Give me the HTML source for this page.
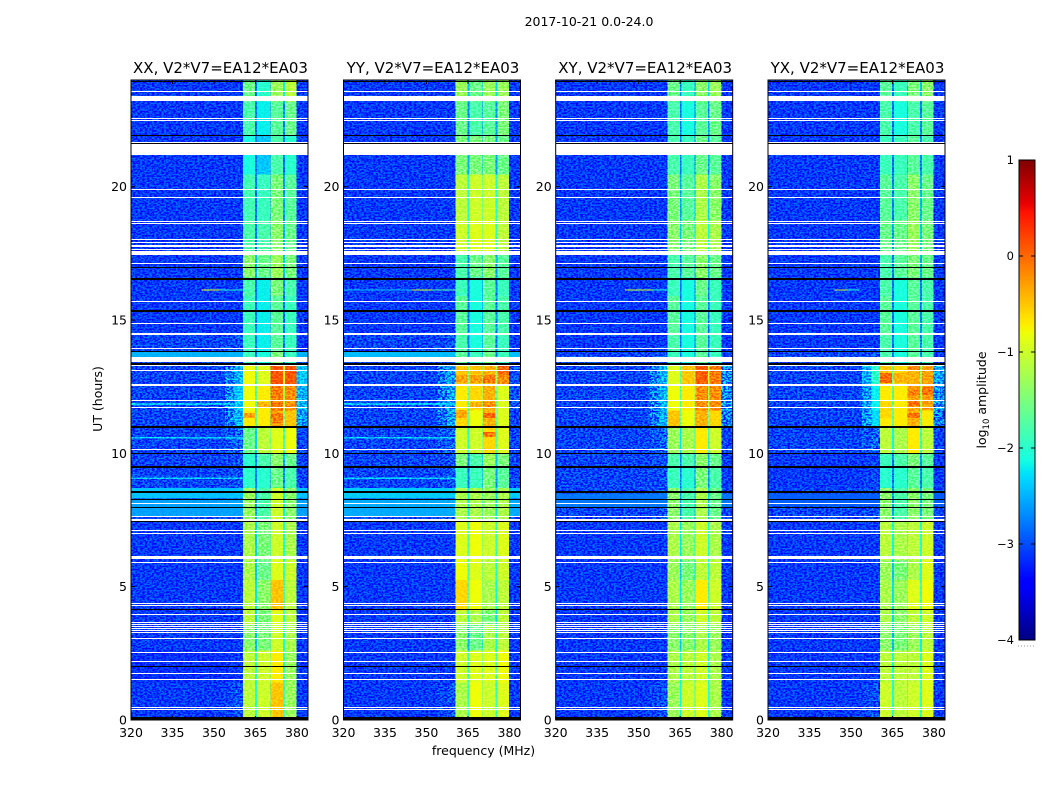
<!DOCTYPE html>
<html>
<head>
<meta charset="utf-8">
<title>2017-10-21 0.0-24.0</title>
<style>
html,body{margin:0;padding:0;background:#fff;}
svg{display:block;}
text{font-family:"DejaVu Sans","Liberation Sans",sans-serif;fill:#000;}
.tick{font-size:12.5px;}
.title{font-size:15px;}
</style>
</head>
<body>
<svg id="figure" xmlns="http://www.w3.org/2000/svg" width="1050" height="800" viewBox="0 0 1050 800">
<defs>
<filter id="speckle" x="0" y="0" width="100%" height="100%" color-interpolation-filters="sRGB">
<feTurbulence type="fractalNoise" baseFrequency="0.42 0.62" numOctaves="2" seed="7"/>
<feColorMatrix type="matrix" values="0 0 0 1 0 0 0 0 1 0 0 0 0 1 0 0 0 0 0 1"/>
<feComponentTransfer><feFuncR type="linear" slope="3.4" intercept="-1.2"/><feFuncG type="linear" slope="3.4" intercept="-1.2"/><feFuncB type="linear" slope="3.4" intercept="-1.2"/></feComponentTransfer>
</filter>
</defs>
<rect width="1050" height="800" fill="#fff"/>
<text x="589" y="26" font-size="12.5" text-anchor="middle">2017-10-21 0.0-24.0</text>
<text x="483.5" y="755" font-size="12.5" text-anchor="middle">frequency (MHz)</text>
<text x="0" y="0" font-size="12.5" text-anchor="middle" transform="translate(102,399) rotate(-90)">UT (hours)</text>
<g id="panels"></g>
<g id="colorbar"></g>
<text x="0" y="0" font-size="12.5" text-anchor="middle" transform="translate(986,400) rotate(-90)">log<tspan font-size="8.5" dy="3">10</tspan><tspan dy="-3"> amplitude</tspan></text>
</svg>
<script>
// ---- data ----
const panelTitles = ["XX, V2*V7=EA12*EA03","YY, V2*V7=EA12*EA03","XY, V2*V7=EA12*EA03","YX, V2*V7=EA12*EA03"];
const xTicks = [320,335,350,365,380];
const yTicks = [0,5,10,15,20];
const cbTicks = [1,0,-1,-2,-3,-4];
// time row edges (hours) and frequency column edges (MHz)
const timeEdges = [0,1.4,2.6,3.6,4.1,5.25,6,7.46,8.7,9.5,10,11,11.6,12.55,13.27,13.85,14.45,15.9,16.6,17.45,18.75,20.45,21.94,23.2,24];
const freqEdges = [320,354,357.5,360.5,364.9,365.5,370.2,370.5,375,375.6,379.9,384];
// log10 amplitude per row: [background, shoulder, band1, band2, band3, band4, right edge]
const ampXX = [
[-3.1,-3,-1.1,-1,-.5,-1.3,-3.1],[-3.15,-3.1,-1.1,-1,-.7,-1.3,-3.1],[-3.1,-3.1,-1.4,-1.5,-1,-1.2,-3.1],[-3.1,-3.1,-1.1,-1.5,-.9,-1.1,-3.1],
[-3.1,-3.1,-1.1,-1.4,-.5,-1.1,-3.1],[-3.1,-3.1,-1.2,-1.6,-.9,-1,-3.1],[-3.1,-3.1,-1.2,-1.5,-1,-1.2,-3.1],[-3.05,-3,-1.3,-1.8,-1,-1.4,-3.05],
[-3.05,-3,-2,-2,-1.6,-1.8,-3.05],[-3.05,-3,-2,-1.8,-1.4,-1.6,-3.05],[-3.05,-2.9,-1.6,-1.1,-.9,-.8,-3.05],[-3.05,-2.5,-.7,-.7,-.3,-.5,-2.6],
[-3.05,-2.4,-.8,-.7,-.1,-.2,-2.5],[-3.05,-2.5,-.8,-.9,.1,.1,-2.4],[-3.05,-3,-1.9,-2.1,-1.5,-1.9,-3.05],[-3.05,-3,-1.9,-2.2,-1.7,-1.9,-3.1],
[-3.1,-3.1,-1.9,-2.2,-1.7,-1.9,-3.1],[-3.1,-3.1,-1.8,-2.2,-1.5,-1.8,-3.1],[-3.1,-3.1,-1.4,-1.6,-1.3,-1.5,-3.1],[-3.1,-3.1,-1.8,-1.8,-1.4,-1.6,-3.1],
[-3.1,-3.1,-1.85,-1.9,-1.5,-1.7,-3.1],[-3.1,-3.1,-2.1,-2.4,-1.8,-2,-3.1],[-3.1,-3.1,-1.8,-2.2,-1.7,-1.6,-3.1],[-3.1,-3.1,-1.6,-2,-1.3,-1.1,-3.1]];
const ampYY = [
[-3.1,-3,-1.2,-.8,-1,-.9,-3.1],[-3.1,-3.1,-1,-.9,-.9,-.8,-3.1],[-3.1,-3.1,-1.4,-1.6,-1.2,-1.1,-3.1],[-3.1,-3.1,-1.1,-1.2,-1.5,-1.1,-3.1],
[-3.1,-3.1,-.6,-.8,-1.2,-1.1,-3.1],[-3.1,-3.1,-.8,-.9,-1.1,-1,-3.1],[-3.1,-3.1,-.9,-.8,-1,-.9,-3.1],[-3.05,-3,-1.2,-1.2,-1.3,-1.2,-3.05],
[-3.05,-3,-1.9,-1.9,-1.5,-1.7,-3.05],[-3.05,-3,-1.5,-1.8,-1.3,-1.5,-3.05],[-3.05,-2.9,-1,-1,-.6,-.9,-3.05],[-3.05,-2.6,-.6,-.8,-.4,-.9,-3.05],
[-3.05,-2.6,-.7,-.6,-.4,-.9,-3],[-3.05,-2.6,-.5,-.5,-.4,-.2,-3],[-3.05,-3,-1.7,-1.9,-1.6,-1.9,-3.05],[-3.05,-3,-1.8,-2.1,-1.7,-1.9,-3.1],
[-3.1,-3.1,-1.7,-2.1,-1.7,-1.8,-3.1],[-3.1,-3.1,-1.9,-2.1,-1.7,-1.9,-3.1],[-3.1,-3.1,-1.8,-1.6,-1.4,-1.7,-3.1],[-3.1,-3.1,-1,-.9,-.9,-1.1,-3.1],
[-3.1,-3.1,-1.1,-1,-1,-1.1,-3.1],[-3.1,-3.1,-1.5,-1.5,-1.5,-1.6,-3.1],[-3.1,-3.1,-1.6,-1.8,-1.7,-1.5,-3.1],[-3.1,-3.1,-1.3,-1.6,-1.3,-1.3,-3.1]];
const ampXY = [
[-3.1,-3,-1.3,-1,-.9,-1.2,-3.1],[-3.1,-3.1,-1.2,-1.1,-1,-1.2,-3.1],[-3.1,-3.1,-1.4,-1.4,-1.2,-1.3,-3.1],[-3.1,-3.1,-1.2,-1.3,-1,-1.1,-3.1],
[-3.1,-3.1,-1.2,-1.3,-.7,-1,-3.1],[-3.1,-3.1,-1.3,-1.5,-1.1,-1.1,-3.1],[-3.1,-3.1,-1.2,-1.3,-1,-1.2,-3.1],[-3.05,-3,-1.4,-1.8,-1.2,-1.6,-3.05],
[-3.05,-3,-1.9,-2,-1.5,-1.8,-3.1],[-3.05,-3,-1.8,-1.8,-1.4,-1.6,-3.1],[-3.05,-2.9,-1.3,-1.2,-.7,-1,-3.05],[-3.05,-2.5,-.5,-.8,-.4,-.6,-2.8],
[-3.05,-2.5,-.8,-.7,-.2,-.2,-2.7],[-3.05,-2.5,-.9,-.5,.05,-.1,-2.7],[-3.05,-3,-1.9,-2.1,-1.7,-1.9,-3.05],[-3.1,-3.1,-1.8,-2.1,-1.7,-1.9,-3.1],
[-3.1,-3.1,-1.7,-2.1,-1.7,-1.9,-3.1],[-3.1,-3.1,-1.9,-2.1,-1.6,-1.9,-3.1],[-3.1,-3.1,-1.8,-1.7,-1.4,-1.6,-3.1],[-3.1,-3.1,-1.4,-1.5,-1.1,-1.2,-3.1],
[-3.1,-3.1,-1.5,-1.7,-1.2,-1.4,-3.1],[-3.1,-3.1,-1.8,-1.9,-1.6,-1.7,-3.1],[-3.1,-3.1,-1.8,-2.1,-1.7,-1.6,-3.1],[-3.1,-3.1,-1.6,-1.9,-1.4,-1.3,-3.1]];
const ampYX = [
[-3.1,-3,-1,-1.1,-1,-.9,-3.1],[-3.1,-3.1,-1.1,-1.1,-1.1,-.9,-3.1],[-3.1,-3.1,-1.4,-1.5,-1.3,-1.1,-3.1],[-3.1,-3.1,-1.2,-1.4,-1.1,-1,-3.1],
[-3.1,-3.1,-1.2,-1.3,-.9,-.8,-3.1],[-3.1,-3.1,-1.3,-1.5,-1.2,-.9,-3.1],[-3.1,-3.1,-1.1,-1.2,-1.1,-1,-3.1],[-3.05,-3,-1.4,-1.8,-1.4,-1.5,-3.05],
[-3.1,-3.05,-2,-2,-1.7,-1.8,-3.1],[-3.1,-3.05,-1.9,-1.8,-1.5,-1.7,-3.1],[-3.05,-2.9,-1.1,-1.2,-.7,-1.1,-3.05],[-3.05,-2.3,-.7,-.7,-.4,-.7,-2.8],
[-3.05,-2.2,-.7,-.7,-.3,-.3,-2.7],[-3.05,-2,-.5,-.6,-.4,-.3,-2.6],[-3.05,-3,-1.8,-2.1,-1.7,-1.8,-3.1],[-3.1,-3.1,-1.8,-2.1,-1.7,-1.8,-3.1],
[-3.1,-3.1,-1.7,-2.1,-1.7,-1.8,-3.1],[-3.1,-3.1,-1.8,-2.1,-1.7,-1.8,-3.1],[-3.1,-3.1,-1.8,-1.7,-1.5,-1.6,-3.1],[-3.1,-3.1,-1.6,-1.6,-1.3,-1.5,-3.1],
[-3.1,-3.1,-1.7,-1.8,-1.4,-1.6,-3.1],[-3.1,-3.1,-1.9,-1.9,-1.7,-1.8,-3.1],[-3.1,-3.1,-1.8,-2.1,-1.8,-1.7,-3.1],[-3.1,-3.1,-1.7,-1.9,-1.5,-1.4,-3.1]];
const panelAmps = [ampXX, ampYY, ampXY, ampYX];
// bright patches: panel, band index (0-3), start hour, end hour, log10 amplitude
const hotSpots = [
[0,0,11.32,11.51,-.3],[0,1,11.74,11.92,-.4],[0,2,11.14,11.51,-.1],
[1,0,12.64,12.94,-.3],[1,1,12.64,12.94,-.3],[1,2,12.64,12.94,-.1],[1,3,12.94,13.27,0],[1,0,11.32,11.62,-.35],[1,1,11.74,11.92,-.4],[1,2,11.74,11.92,-.2],[1,2,11.32,11.51,0],[1,2,10.61,10.8,-.1],
[3,0,12.64,13.01,0],[3,1,12.64,13.01,-.4],[3,2,13.12,13.27,-.2],[3,2,12.19,12.37,-.1],[3,3,12.19,12.49,-.05],[3,2,11.77,12,-.05],[3,0,11.32,11.96,-.6],[3,2,11.32,11.51,-.05]];
// smooth elevated background strips: panel, start hour, end hour, log10 amplitude
const calmStrips = [
[0,8.32,8.7,-2.3],[0,7.62,8.3,-2.5],[0,13.62,13.82,-2.4],
[1,8.32,8.7,-2.25],[1,7.62,8.3,-2.45],[1,13.62,13.82,-2.35],
[2,7.95,8.5,-2.75],[3,8,8.5,-2.9]];
// flagged times, hours: [start, end]
const flaggedWhite = [[23.55,23.59],[23.22,23.41],[22.54,22.58],[22.47,22.51],[21.64,21.68],[21.19,21.6],[19.88,19.92],[19.59,19.63],[18.68,18.72],[18.58,18.62],[17.98,18.02],[17.88,17.92],[17.79,17.83],[17.72,17.76],[17.64,17.68],[17.44,17.58],[17.11,17.15],[15.68,15.72],[14.86,14.9],[14.44,14.52],[13.92,13.96],[13.42,13.6],[13.29,13.33],[13.07,13.11],[12.57,12.61],[12.52,12.56],[11.97,12.01],[11.68,11.72],[10.13,10.17],[8.08,8.12],[7.6,7.64],[7.47,7.54],[7.1,7.14],[6.97,7.01],[6.04,6.15],[5.87,5.91],[4.34,4.38],[4.26,4.3],[3.94,3.98],[3.63,3.67],[3.55,3.59],[3.48,3.52],[3.4,3.44],[3.32,3.36],[3.25,3.29],[3.03,3.07],[2.52,2.56],[2.18,2.22],[1.73,1.77],[1.5,1.54],[.44,.48],[.39,.43]];
const flaggedBlack = [[23.94,23.98],[21.9,21.94],[21.61,21.65],[16.94,16.98],[16.52,16.59],[15.32,15.39],[13.81,13.85],[13.3,13.37],[10.94,11.01],[9.98,10.02],[9.47,9.54],[8.52,8.59],[8.26,8.3],[7.95,7.99],[7.42,7.46],[4.13,4.17],[1.97,2.01],[0,.1]];
// interference lines: panel index, hour, start MHz, end MHz, log10 amplitude
const rfiLines = [[0,16.11,345.5,352,-.8],[0,16.11,352,363,-2],[1,16.11,344.6,352,-.9],[1,16.11,352,363,-1.7],[1,16.11,320,344.6,-2.4],[2,16.11,345,355,-1],[2,16.11,355,362,-2],[3,16.11,344,349,-1],[3,16.11,349,353,-2.1]];
const faintLines = [[0,10.59,-2.35],[0,9.06,-2.35],[0,11.85,-2.4],[1,10.59,-2.35],[1,9.06,-2.35],[1,11.85,-2.4]];
const bandEdges = [[360.5,364.9],[365.5,370.2],[370.5,375],[375.6,379.9]];
const panelLeft = [131,343.5,555.7,768];
const panelWidth = 177;
const plotTop = 80, plotBottom = 720;
const freqMin = 320, freqMax = 384, timeMin = 0, timeMax = 24;
const cbMin = -4, cbMax = 1;
const cbLeft = 1019, cbRight = 1035, cbTop = 160, cbBottom = 640;

// ---- helpers ----
const NS = 'http://www.w3.org/2000/svg';
function make(parent, tag, attrs, txt){
  const el = document.createElementNS(NS, tag);
  for (const k in attrs) el.setAttribute(k, attrs[k]);
  if (txt !== undefined) el.textContent = txt;
  parent.appendChild(el);
  return el;
}
function yScale(h){ return plotBottom - (h - timeMin) / (timeMax - timeMin) * (plotBottom - plotTop); }
function xScale(f, left){ return left + (f - freqMin) / (freqMax - freqMin) * panelWidth; }
function piece(pts, t){
  if (t <= pts[0][0]) return pts[0][1];
  for (let i = 1; i < pts.length; i++) {
    if (t <= pts[i][0]) return pts[i-1][1] + (pts[i][1] - pts[i-1][1]) * (t - pts[i-1][0]) / (pts[i][0] - pts[i-1][0]);
  }
  return pts[pts.length-1][1];
}
function jet(t){
  const r = piece([[.35,0],[.66,1],[.89,1],[1,.5]], t);
  const g = piece([[.125,0],[.375,1],[.64,1],[.91,0]], t);
  const b = piece([[0,.5],[.11,1],[.34,1],[.65,0]], t);
  return 'rgb(' + Math.round(r*255) + ',' + Math.round(g*255) + ',' + Math.round(b*255) + ')';
}
function colorOf(v){ return jet((v - cbMin) / (cbMax - cbMin)); }
// column -> row field; -1 marks the dips between bands, -2 the fade into the shoulder
const colMap = [0,-2,1,2,-1,3,-1,4,-1,5,6];
function cellValue(row, c){
  const m = colMap[c];
  if (m >= 0) return row[m];
  if (m === -2) return (row[0] + row[1]) / 2;
  return Math.max(row[0] + .3, (row[colMap[c-1]] + row[colMap[c+1]]) / 2 - 1);
}
function bandRect(parent, f, left, fill){
  const y0 = Math.round(yScale(f[1]));
  const h = Math.max(1, Math.round(yScale(f[0]) - yScale(f[1])));
  return make(parent, 'rect', {x:left, y:y0, width:panelWidth, height:h, fill:fill, 'shape-rendering':'crispEdges'});
}

// ---- panels ----
const panelsG = document.getElementById('panels');
panelAmps.forEach(function(amps, p){
  const left = panelLeft[p];
  const g = make(panelsG, 'g', {});
  
  
  const heat = make(g, 'g', {'shape-rendering':'crispEdges', style:'isolation:isolate'});
  
  
  amps.forEach(function(row, r){
    for (let c = 0; c < freqEdges.length - 1; c++) {
      const x0 = xScale(freqEdges[c], left), x1 = xScale(freqEdges[c+1], left);
      const y0 = yScale(timeEdges[r+1]), y1 = yScale(timeEdges[r]);
      const cell = make(heat, 'rect', {x:x0, y:y0, width:x1-x0, height:y1-y0, fill:colorOf(cellValue(row, c))});
      
      
    }
  });
  hotSpots.filter(function(s){ return s[0] === p; }).forEach(function(s){
    const e = bandEdges[s[1]];
    const spot = make(heat, 'rect', {x:xScale(e[0],left), y:yScale(s[3]), width:xScale(e[1],left)-xScale(e[0],left), height:yScale(s[2])-yScale(s[3]), fill:colorOf(s[4])});
    
    
  });
  faintLines.filter(function(l){ return l[0] === p; }).forEach(function(l){
    const line = make(heat, 'rect', {x:xScale(freqMin,left), y:yScale(l[1]+.03), width:xScale(360.5,left)-xScale(freqMin,left), height:yScale(l[1]-.03)-yScale(l[1]+.03), fill:colorOf(l[2])});
    
    
  });
  const noiseBg = make(heat, 'rect', {x:left, y:plotTop, width:xScale(360.5,left)-left, height:plotBottom-plotTop, filter:'url(#speckle)', style:'mix-blend-mode:overlay'});
  
  
  const noiseRight = make(heat, 'rect', {x:xScale(379.9,left), y:plotTop, width:left+panelWidth-xScale(379.9,left), height:plotBottom-plotTop, filter:'url(#speckle)', style:'mix-blend-mode:overlay'});
  
  
  const noiseBand = make(heat, 'rect', {x:xScale(360.5,left), y:plotTop, width:xScale(379.9,left)-xScale(360.5,left), height:plotBottom-plotTop, filter:'url(#speckle)', opacity:.42, style:'mix-blend-mode:overlay'});
  
  
  calmStrips.filter(function(s){ return s[0] === p; }).forEach(function(s){
    const left1 = make(g, 'rect', {x:left, y:yScale(s[2]), width:xScale(360.5,left)-left, height:yScale(s[1])-yScale(s[2]), fill:colorOf(s[3]), opacity:.85, 'shape-rendering':'crispEdges'});
    
    
    const right1 = make(g, 'rect', {x:xScale(379.9,left), y:yScale(s[2]), width:left+panelWidth-xScale(379.9,left), height:yScale(s[1])-yScale(s[2]), fill:colorOf(s[3]), opacity:.85, 'shape-rendering':'crispEdges'});
    
    
  });
  rfiLines.filter(function(l){ return l[0] === p; }).forEach(function(l){
    const line = make(g, 'rect', {x:xScale(l[2],left), y:yScale(l[1]+.025), width:xScale(l[3],left)-xScale(l[2],left), height:1, fill:colorOf(l[4]), 'shape-rendering':'crispEdges'});
    
    
  });
  flaggedWhite.forEach(function(f){
    const band = bandRect(g, f, left, '#fff');
    
    
  });
  flaggedBlack.forEach(function(f){
    const band = bandRect(g, f, left, '#000');
    
    
  });
  const frame = make(g, 'rect', {x:left, y:plotTop, width:panelWidth, height:plotBottom-plotTop, fill:'none', stroke:'#000', 'stroke-width':1});
  
  
  xTicks.forEach(function(t){
    const x = xScale(t, left);
    const t1 = make(g, 'path', {d:'M'+x+' '+plotBottom+'v-4M'+x+' '+plotTop+'v4', stroke:'#000', 'stroke-width':1});
    
    
    const lb = make(g, 'text', {x:x, y:plotBottom+17, 'text-anchor':'middle', class:'tick'}, String(t));
    
    
  });
  yTicks.forEach(function(t){
    const y = yScale(t);
    const t1 = make(g, 'path', {d:'M'+left+' '+y+'h4M'+(left+panelWidth)+' '+y+'h-4', stroke:'#000', 'stroke-width':1});
    
    
    const lb = make(g, 'text', {x:left-4, y:y+4.5, 'text-anchor':'end', class:'tick'}, String(t));
    
    
  });
  const title = make(g, 'text', {x:left+panelWidth/2+1, y:73, 'text-anchor':'middle', class:'title'}, panelTitles[p]);
  
  
});

// ---- colorbar ----
const cb = document.getElementById('colorbar');
const defs = document.querySelector('defs');
const grad = make(defs, 'linearGradient', {id:'jetGrad', x1:0, y1:1, x2:0, y2:0});
for (let i = 0; i <= 100; i++) {
  make(grad, 'stop', {offset:(i/100), 'stop-color':jet(i/100)});
}
const cbRect = make(cb, 'rect', {x:cbLeft, y:cbTop, width:cbRight-cbLeft, height:cbBottom-cbTop, fill:'url(#jetGrad)', stroke:'#000', 'stroke-width':1});


function cbY(v){ return cbBottom - (v - cbMin) / (cbMax - cbMin) * (cbBottom - cbTop); }
cbTicks.forEach(function(t){
  const y = cbY(t);
  const tk = make(cb, 'path', {d:'M'+cbLeft+' '+y+'h4M'+cbRight+' '+y+'h-4', stroke:'#000', 'stroke-width':1});
  
  
  const lb = make(cb, 'text', {x:1014, y:y+4, 'text-anchor':'end', class:'tick', style:'font-size:11.5px'}, String(t).replace('-', '\u2212'));
  
  
});
const dots = make(cb, 'path', {d:'M1018 646h17', stroke:'#999', 'stroke-width':1, 'stroke-dasharray':'1 2', fill:'none'});


</script>
</body>
</html>
